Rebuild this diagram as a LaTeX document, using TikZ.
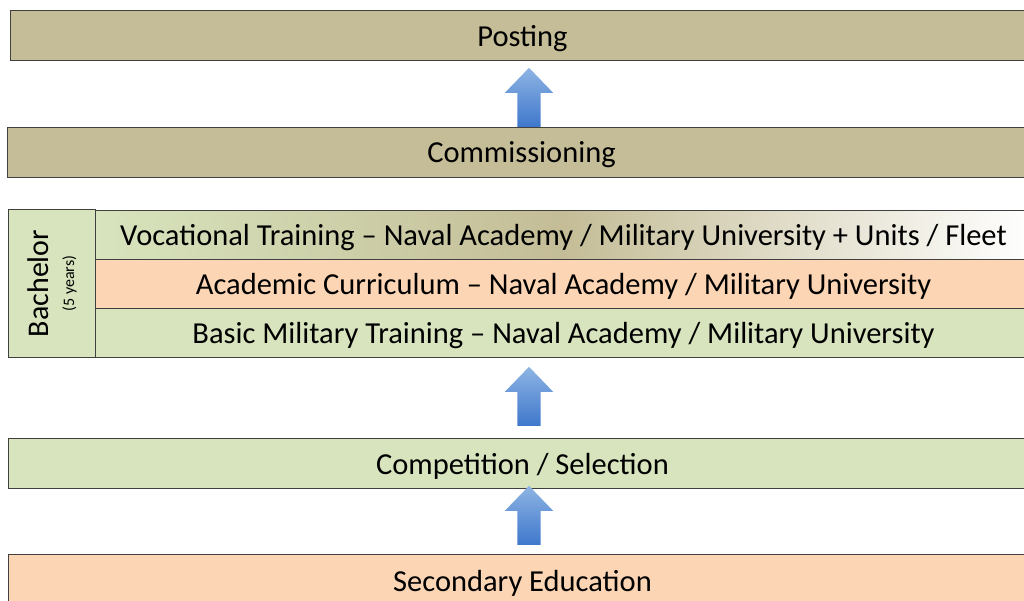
\documentclass[tikz,border=0pt]{standalone}
\usepackage{fontspec}
\setmainfont{Carlito}
\usetikzlibrary{shapes.arrows,positioning}
\definecolor{tanfill}{HTML}{C4BD97}
\definecolor{greenfill}{HTML}{D7E4BD}
\definecolor{salmonfill}{HTML}{FCD5B5}
\definecolor{edge}{HTML}{404040}
\definecolor{arrowtop}{HTML}{8EB4E3}
\definecolor{arrowbot}{HTML}{3F78CC}

\begin{document}
\begin{tikzpicture}[x=1pt,y=-1pt,
  bar/.style={draw=edge, line width=1pt, inner sep=0pt, text depth=0pt, anchor=north west, font=\fontsize{30.5}{34}\selectfont},
  upArrow/.style={single arrow, shape border rotate=90, minimum height=59pt, minimum width=48pt,
    single arrow head extend=12.5pt, single arrow tip angle=88, inner sep=11.5pt, draw=none,
    top color=arrowtop, bottom color=arrowbot, anchor=tail}]
\useasboundingbox (0,0) rectangle (1024,600);
\clip (0,0) rectangle (1024,600);
%\draw[help lines] (0,0) grid[step=50] (1024,600);
\node[bar, fill=tanfill, minimum width=1024pt, minimum height=50pt] (posting) at (10,10) {Posting};
\node[bar, fill=tanfill, minimum width=1028pt, minimum height=50pt] (commis) at (7,127) {Commissioning};
% bachelor block
\node[bar, fill=greenfill, minimum width=87pt, minimum height=148pt] (bach) at (8,209) {};
\node[rotate=90, align=center, inner sep=0pt, font=\fontsize{30}{26}\selectfont] (bachText) at (bach.center) {Bachelor\\{\fontsize{16}{17}\selectfont (5 years)}};
\node[bar, left color=greenfill, right color=white, middle color=tanfill, minimum width=936pt, minimum height=49pt] (voc) at (95,210) {Vocational Training – Naval Academy / Military University + Units / Fleet};
\node[bar, fill=salmonfill, minimum width=936pt, minimum height=49pt] (acad) at (95,259) {Academic Curriculum – Naval Academy / Military University};
\node[bar, fill=greenfill, minimum width=936pt, minimum height=49pt] (basic) at (95,308) {Basic Military Training – Naval Academy / Military University};
\node[bar, fill=greenfill, minimum width=1028pt, minimum height=50pt] (comp) at (8,438) {Competition / Selection};
\node[bar, fill=salmonfill, minimum width=1028pt, minimum height=52pt] (second) at (8,554) {Secondary Education};
% arrows
\node[upArrow] (up1) at (529,127) {};
\node[upArrow] (up2) at (529,426) {};
\node[upArrow] (up3) at (529,545) {};
\end{tikzpicture}
\end{document}
